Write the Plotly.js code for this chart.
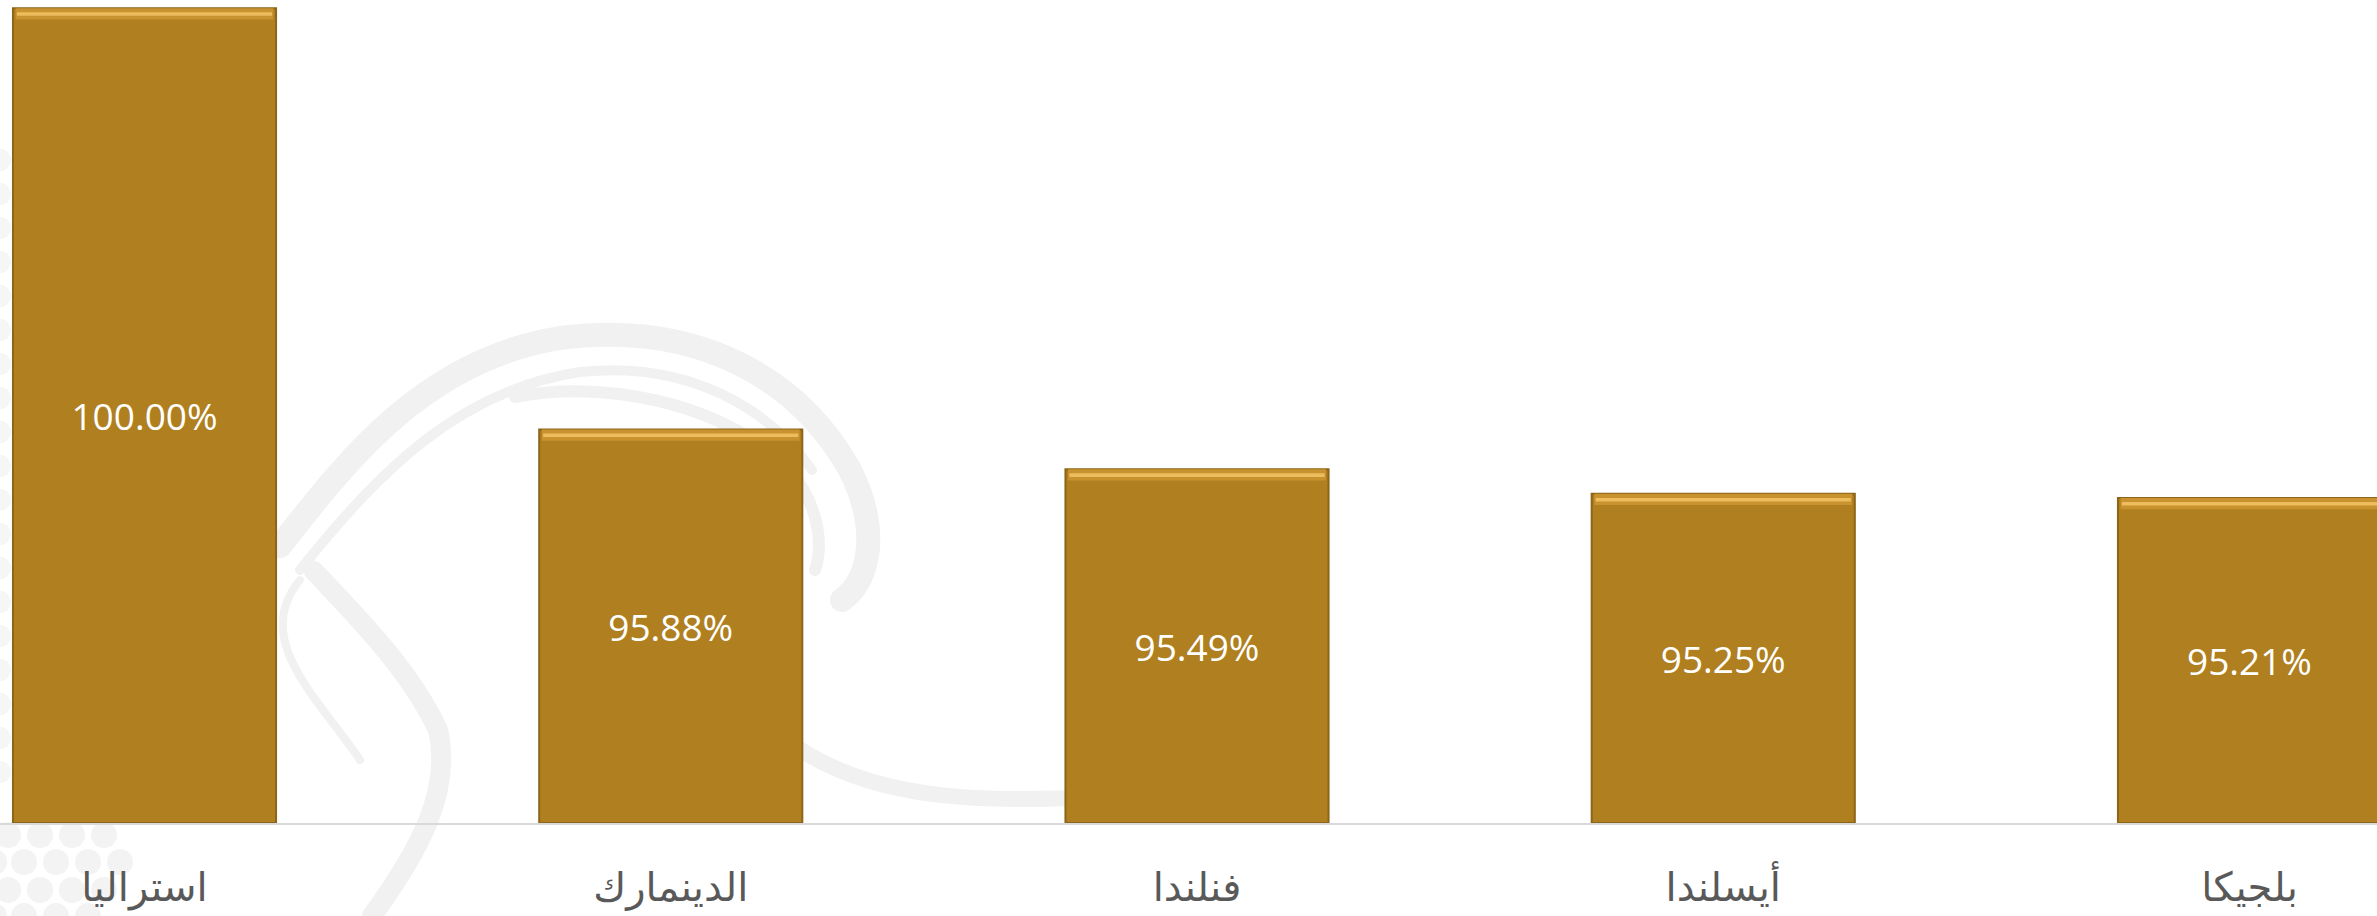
<!DOCTYPE html>
<html>
<head>
<meta charset="utf-8">
<script src="https://cdn.plot.ly/plotly-3.0.1.min.js"></script>
<style>html,body{margin:0;padding:0;background:#fff;}#chart{width:2377px;height:916px;}</style>
</head>
<body>
<div id="chart"></div>
<script>
// ---- data ----
const countries = ["استراليا", "الدينمارك", "فنلندا", "أيسلندا", "بلجيكا"];
const scores = [100.00, 95.88, 95.49, 95.25, 95.21];

// ---- axis settings ----
const Y_MIN = 92.03, Y_MAX = 100.08;
const BAR_COLOR = "#AF7F20";

const labels = scores.map(v => v.toFixed(2) + "%");
const idx = countries.map((c, i) => i);

const mainBars = {
  type: "bar",
  x: idx,
  base: Y_MIN,
  y: scores.map(v => v - Y_MIN),
  width: 0.5,
  marker: { color: BAR_COLOR, line: { color: "#8C6519", width: 2 } },
  text: labels,
  textposition: "inside",
  insidetextanchor: "middle",
  textangle: 0,
  textfont: { family: "Open Sans, sans-serif", size: 37, color: "#ffffff" },
  hoverinfo: "skip",
  showlegend: false
};
const bevel1 = {
  type: "bar",
  x: idx,
  base: scores.map(v => v - 0.11),
  y: scores.map(() => 0.11),
  width: 0.49,
  marker: { color: "#C8922F", line: { width: 0 } },
  hoverinfo: "skip",
  showlegend: false
};
const bevel2 = {
  type: "bar",
  x: idx,
  base: scores.map(v => v - 0.075),
  y: scores.map(() => 0.035),
  width: 0.485,
  marker: { color: "#EDBC5C", line: { width: 0 } },
  hoverinfo: "skip",
  showlegend: false
};

// faint watermark (decorative logo)
let dots = "";
const dotRows = [[835, [8, 40, 72, 104]], [862, [-6, 24, 56, 88, 120]], [890, [8, 40, 72, 104]], [916, [-6, 24, 56, 88]]];
dotRows.forEach(r => r[1].forEach(x => { dots += `<circle cx="${x}" cy="${r[0]}" r="13" fill="#f3f3f3"/>`; }));
for (let y = 160; y < 800; y += 34) { dots += `<circle cx="0" cy="${y}" r="11" fill="#f6f6f6"/>`; }
const svg = `<svg xmlns="http://www.w3.org/2000/svg" width="2377" height="916" viewBox="0 0 2377 916">
<g fill="none" stroke="#f1f1f2" stroke-linecap="round">
<path d="M280 546 C340 470 420 360 560 338 C700 320 800 380 850 470 C880 530 870 580 842 600" stroke-width="24"/>
<path d="M300 570 C380 470 460 390 580 372 C690 360 770 410 812 470" stroke-width="10"/>
<path d="M515 397 C600 380 720 400 790 470 C815 500 825 540 815 570" stroke-width="12"/>
<path d="M314 571 C360 620 410 670 438 730 C452 790 420 850 372 916" stroke-width="20"/>
<path d="M300 580 C250 640 320 700 360 760" stroke-width="8"/>
<path d="M780 735 C860 800 980 810 1180 790" stroke-width="16"/>
</g>
${dots}
</svg>`;

const layout = {
  width: 2377,
  height: 916,
  margin: { l: 0, r: 0, t: 0, b: 93, pad: 0 },
  paper_bgcolor: "#ffffff",
  plot_bgcolor: "rgba(0,0,0,0)",
  barmode: "overlay",
  showlegend: false,
  xaxis: {
    range: [-0.2746, 4.2423],
    tickmode: "array",
    tickvals: idx,
    ticktext: countries,
    ticks: "",
    showgrid: false,
    zeroline: false,
    showline: true,
    linecolor: "#D9D9D9",
    linewidth: 2,
    ticklabelstandoff: 28,
    tickfont: { family: "DejaVu Sans, sans-serif", size: 40, color: "#595959" },
    fixedrange: true
  },
  yaxis: {
    range: [Y_MIN, Y_MAX],
    showgrid: false,
    zeroline: false,
    showline: false,
    showticklabels: false,
    ticks: "",
    fixedrange: true
  },
  images: [{
    source: "data:image/svg+xml;charset=utf-8," + encodeURIComponent(svg),
    xref: "paper", yref: "paper",
    x: 0, y: 1, sizex: 1, sizey: 916 / 823,
    xanchor: "left", yanchor: "top",
    sizing: "stretch", layer: "below"
  }]
};

Plotly.newPlot("chart", [mainBars, bevel1, bevel2], layout, { displayModeBar: false, staticPlot: true });
</script>
</body>
</html>
